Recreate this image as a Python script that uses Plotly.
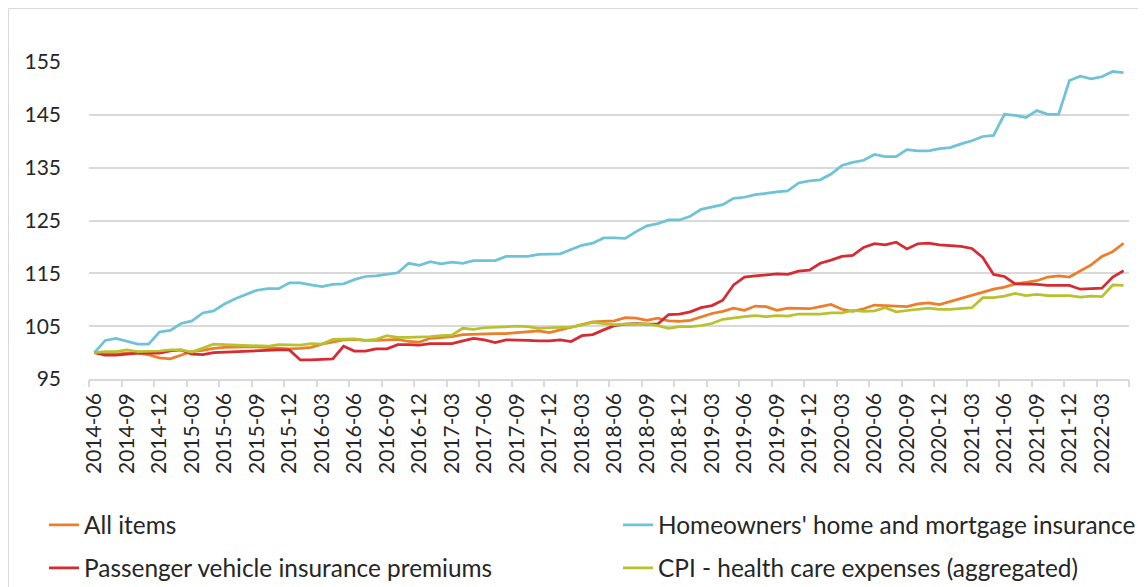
import plotly.graph_objects as go

# ---- data ----
months = []
y, m = 2014, 6
for _ in range(96):
    months.append(f"{y}-{m:02d}")
    m += 1
    if m > 12:
        m = 1
        y += 1

all_items = [100.0, 99.8, 99.7, 99.9, 99.9, 99.6, 99.0, 98.8, 99.5, 100.2,
             100.4, 100.8, 101.0, 101.1, 101.1, 101.1, 101.0, 100.9, 100.7, 100.8,
             101.0, 101.6, 102.0, 102.4, 102.5, 102.3, 102.3, 102.4, 102.5, 102.1,
             102.0, 102.7, 102.9, 103.0, 103.4, 103.5, 103.6, 103.6, 103.6, 103.8,
             103.9, 104.1, 103.8, 104.3, 104.8, 105.4, 105.8, 105.9, 106.0, 106.6,
             106.5, 106.1, 106.5, 106.0, 105.9, 106.1, 106.8, 107.4, 107.8, 108.4,
             108.0, 108.8, 108.7, 108.0, 108.4, 108.3, 108.3, 108.7, 109.1, 108.2,
             107.8, 108.3, 109.0, 108.9, 108.8, 108.7, 109.2, 109.4, 109.1, 109.7,
             110.3, 110.9, 111.5, 112.0, 112.4, 113.0, 113.3, 113.6, 114.3, 114.5,
             114.3, 115.5, 116.6, 118.2, 119.1, 120.7]

homeowners = [100.0, 102.3, 102.7, 102.2, 101.6, 101.6, 103.9, 104.2, 105.5, 106.0,
              107.5, 107.9, 109.2, 110.2, 111.0, 111.8, 112.1, 112.1, 113.2, 113.2,
              112.8, 112.5, 112.9, 113.0, 113.8, 114.4, 114.5, 114.8, 115.1, 116.9,
              116.5, 117.2, 116.8, 117.1, 116.9, 117.4, 117.4, 117.4, 118.2, 118.2,
              118.2, 118.6, 118.7, 118.7, 119.5, 120.3, 120.7, 121.7, 121.7, 121.6,
              122.9, 124.0, 124.4, 125.1, 125.1, 125.8, 127.1, 127.6, 128.0, 129.2,
              129.4, 129.9, 130.2, 130.4, 130.6, 132.1, 132.5, 132.7, 133.8, 135.4,
              136.0, 136.4, 137.5, 137.1, 137.1, 138.4, 138.2, 138.2, 138.6, 138.8,
              139.5, 140.1, 140.9, 141.1, 145.1, 144.9, 144.5, 145.8, 145.1, 145.1,
              151.5, 152.3, 151.8, 152.2, 153.2, 153.0]

vehicle = [100.0, 99.5, 99.5, 99.7, 99.9, 99.9, 99.9, 100.3, 100.5, 99.7,
           99.6, 100.0, 100.1, 100.2, 100.2, 100.4, 100.4, 100.5, 100.5, 98.6,
           98.6, 98.7, 98.8, 101.2, 100.3, 100.3, 100.7, 100.7, 101.5, 101.5,
           101.4, 101.7, 101.7, 101.7, 102.2, 102.7, 102.4, 101.9, 102.4, 102.4,
           102.3, 102.2, 102.2, 102.4, 102.1, 103.2, 103.4, 104.3, 105.1, 105.4,
           105.5, 105.4, 105.4, 107.2, 107.3, 107.7, 108.5, 108.9, 109.9, 112.8,
           114.3, 114.5, 114.7, 114.9, 114.8, 115.4, 115.6, 116.9, 117.5, 118.2,
           118.4, 119.9, 120.6, 120.4, 120.9, 119.6, 120.6, 120.7, 120.4, 120.3,
           120.1, 119.7, 118.0, 114.8, 114.4, 113.0, 113.0, 112.9, 112.7, 112.7,
           112.7, 112.0, 112.1, 112.2, 114.3, 115.5]

health = [100.0, 100.2, 100.2, 100.5, 100.2, 100.2, 100.3, 100.5, 100.5, 100.1,
          100.8, 101.6, 101.5, 101.4, 101.3, 101.3, 101.2, 101.5, 101.5, 101.4,
          101.7, 101.6, 102.5, 102.6, 102.6, 102.3, 102.5, 103.2, 102.9, 102.9,
          102.9, 103.0, 103.2, 103.3, 104.6, 104.4, 104.7, 104.8, 104.9, 105.0,
          104.9, 104.6, 104.7, 104.8, 104.8, 105.2, 105.7, 105.5, 105.3, 105.4,
          105.4, 105.4, 105.1, 104.6, 104.9, 104.9, 105.1, 105.5, 106.3, 106.6,
          106.8, 107.0, 106.8, 107.0, 106.9, 107.3, 107.3, 107.3, 107.5, 107.5,
          108.0, 107.8, 107.9, 108.5, 107.7, 108.0, 108.2, 108.4, 108.2, 108.2,
          108.4, 108.5, 110.4, 110.4, 110.7, 111.2, 110.8, 111.0, 110.8, 110.8,
          110.8, 110.5, 110.7, 110.6, 112.8, 112.7]

series_names = ["All items", "Homeowners' home and mortgage insurance",
                "Passenger vehicle insurance premiums", "CPI - health care expenses (aggregated)"]
series_values = [all_items, homeowners, vehicle, health]
series_colors = ["#EE7D2A", "#6EC4D6", "#D52B33", "#B8C12E"]

tick_labels = months[::3]
y_ticks = [95, 105, 115, 125, 135, 145, 155]

# ---- figure ----
FONT = "Lato, 'Open Sans', sans-serif"
TXT = "#262626"
GRID = "#D9D9D9"

fig = go.Figure()
legend_ids = ["legend", "legend2", "legend3", "legend4"]
for name, vals, col, lg in zip(series_names, series_values, series_colors, legend_ids):
    fig.add_trace(go.Scatter(x=months, y=vals, name=name, mode="lines",
                             line=dict(color=col, width=2.75), legend=lg))

# helper trace for boundary tick marks axis
fig.add_trace(go.Scatter(x=[-0.5], y=[None], xaxis="x2", mode="lines",
                         showlegend=False, hoverinfo="skip"))

n = len(months)
boundaries = [i - 0.5 for i in range(0, n + 1, 3)]

# page body has an 8px margin: work in figure pixels (page - 8)
W, H = 1138, 579
PL, PR, PT, PB = 81, 1121, 54, 371
ph = PB - PT
pw = PR - PL

def px_x(px):
    return (px - PL) / pw

def px_y(py):
    return (PB - py) / ph

leg_common = dict(font=dict(family=FONT, size=24.4, color=TXT), bgcolor="rgba(0,0,0,0)",
                  borderwidth=0, xanchor="left", yanchor="middle", orientation="h")

fig.update_layout(
    width=W, height=H,
    margin=dict(l=PL, r=W - PR, t=PT, b=H - PB, autoexpand=False),
    paper_bgcolor="white", plot_bgcolor="white",
    font=dict(family=FONT, size=21, color=TXT),
    xaxis=dict(type="category", range=[-0.5, n - 0.5], tickmode="array",
               tickvals=tick_labels, ticktext=tick_labels, tickangle=-90,
               ticks="", showgrid=False, showline=True, linecolor=GRID, linewidth=1.5,
               tickfont=dict(family=FONT, size=21, color=TXT), ticklabelstandoff=4,
               zeroline=False, automargin=False),
    xaxis2=dict(overlaying="x", anchor="y", side="bottom", range=[-0.5, n - 0.5],
                tickmode="array", tickvals=boundaries, showticklabels=False,
                ticks="outside", ticklen=7, tickwidth=1.5, tickcolor=GRID,
                showgrid=False, showline=False, zeroline=False),
    yaxis=dict(range=[95, 155], tickmode="array", tickvals=y_ticks,
               showgrid=True, gridcolor=GRID, gridwidth=1.5, zeroline=False,
               showline=False, ticks="", ticklabelstandoff=27, automargin=False,
               tickfont=dict(family=FONT, size=21, color=TXT)),
    legend=dict(x=px_x(36), y=px_y(517), **leg_common),
    legend2=dict(x=px_x(610), y=px_y(517), **leg_common),
    legend3=dict(x=px_x(36), y=px_y(560), **leg_common),
    legend4=dict(x=px_x(610), y=px_y(560), **leg_common),
    shapes=[dict(type="rect", xref="paper", yref="paper",
                 x0=px_x(0.5), x1=px_x(1200), y0=px_y(700), y1=px_y(0.5),
                 line=dict(color=GRID, width=1), fillcolor="rgba(0,0,0,0)", layer="below")],
)

fig.write_html("out.html")
